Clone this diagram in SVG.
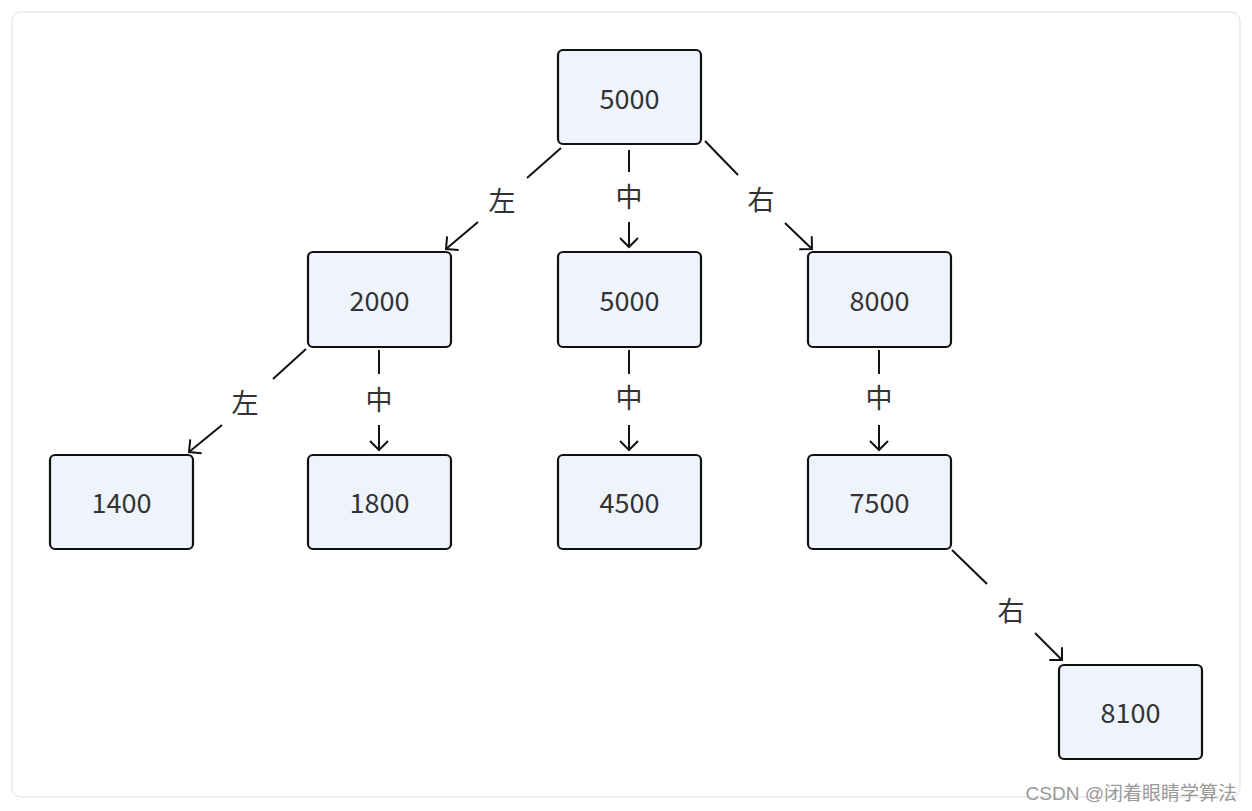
<svg xmlns="http://www.w3.org/2000/svg" width="1252" height="811" viewBox="0 0 1252 811">
<style>
.node rect{fill:#eef3fc;stroke:#111;stroke-width:2.2}
.node text,.lbl{font-family:"Noto Sans CJK SC","Noto Sans",sans-serif;font-size:27px;fill:#333;text-anchor:middle;dominant-baseline:central}
.edge line{stroke:#111;stroke-width:2}
.wm{font-family:"Liberation Sans","Noto Sans CJK SC",sans-serif;font-size:19px;fill:#999}
</style>
<defs>
<marker id="arr" viewBox="0 0 10 20" refX="9" refY="10" markerWidth="10" markerHeight="20" markerUnits="userSpaceOnUse" orient="auto" overflow="visible">
<path d="M0,1 L9,10 L0,19" fill="none" stroke="#111" stroke-width="2"/>
</marker>
</defs>
<rect x="0" y="0" width="1252" height="811" fill="#fff"/>
<rect x="12" y="12" width="1228" height="785" rx="9" fill="#fff" stroke="#ddd" stroke-width="1"/>
<g id="connectors" class="edge">
<line x1="561" y1="148" x2="527" y2="178"/>
<line x1="478" y1="222" x2="446" y2="249" marker-end="url(#arr)"/>
<line x1="629" y1="150" x2="629" y2="172"/>
<line x1="629" y1="222" x2="629" y2="247" marker-end="url(#arr)"/>
<line x1="705" y1="141" x2="738" y2="175"/>
<line x1="785" y1="223" x2="812" y2="249" marker-end="url(#arr)"/>
<line x1="306" y1="349" x2="273" y2="379"/>
<line x1="222" y1="425" x2="189" y2="452" marker-end="url(#arr)"/>
<line x1="379" y1="350" x2="379" y2="374"/>
<line x1="379" y1="425" x2="379" y2="450" marker-end="url(#arr)"/>
<line x1="629" y1="350" x2="629" y2="374"/>
<line x1="629" y1="425" x2="629" y2="450" marker-end="url(#arr)"/>
<line x1="879" y1="350" x2="879" y2="374"/>
<line x1="879" y1="425" x2="879" y2="450" marker-end="url(#arr)"/>
<line x1="952" y1="550" x2="987" y2="584"/>
<line x1="1035" y1="633" x2="1062" y2="660" marker-end="url(#arr)"/>
<text class="lbl" x="502" y="199">左</text>
<text class="lbl" x="629" y="195">中</text>
<text class="lbl" x="761" y="198">右</text>
<text class="lbl" x="245" y="401">左</text>
<text class="lbl" x="379" y="398">中</text>
<text class="lbl" x="629" y="396">中</text>
<text class="lbl" x="879" y="396">中</text>
<text class="lbl" x="1011" y="609">右</text>
</g>
<g id="n_root" class="node"><rect x="558" y="50" width="143" height="94" rx="5"/><text x="629.5" y="97">5000</text></g>
<g id="n_2000" class="node"><rect x="308" y="252" width="143" height="95" rx="5"/><text x="379.5" y="299">2000</text></g>
<g id="n_5000b" class="node"><rect x="558" y="252" width="143" height="95" rx="5"/><text x="629.5" y="299">5000</text></g>
<g id="n_8000" class="node"><rect x="808" y="252" width="143" height="95" rx="5"/><text x="879.5" y="299">8000</text></g>
<g id="n_1400" class="node"><rect x="50" y="455" width="143" height="94" rx="5"/><text x="121.5" y="501">1400</text></g>
<g id="n_1800" class="node"><rect x="308" y="455" width="143" height="94" rx="5"/><text x="379.5" y="501">1800</text></g>
<g id="n_4500" class="node"><rect x="558" y="455" width="143" height="94" rx="5"/><text x="629.5" y="501">4500</text></g>
<g id="n_7500" class="node"><rect x="808" y="455" width="143" height="94" rx="5"/><text x="879.5" y="501">7500</text></g>
<g id="n_8100" class="node"><rect x="1059" y="665" width="143" height="94" rx="5"/><text x="1130.5" y="711">8100</text></g>
<text class="wm" x="1237" y="800" text-anchor="end">CSDN @闭着眼睛学算法</text>
</svg>
